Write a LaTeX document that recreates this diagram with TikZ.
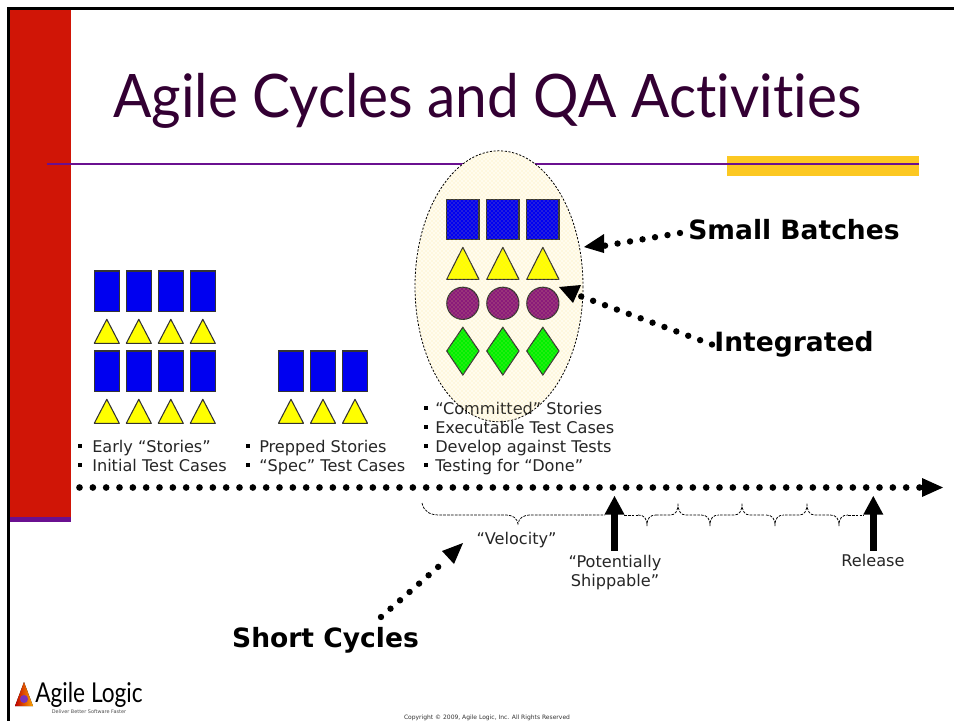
\documentclass[tikz,border=0pt]{standalone}
\usepackage{fontspec}
\usepackage{graphicx}
\setmainfont{DejaVu Sans}
\newfontfamily\titlefont[Ligatures=NoCommon]{Lato}
\usetikzlibrary{arrows.meta,patterns}
\definecolor{framered}{HTML}{D01506}
\definecolor{linepurple}{HTML}{6A1090}
\definecolor{barorange}{HTML}{FCC822}
\definecolor{titlepurple}{HTML}{330033}
\definecolor{blockblue}{HTML}{0000F0}
\definecolor{tri}{HTML}{FFFF00}
\definecolor{circ}{HTML}{8A1A7A}
\definecolor{dia}{HTML}{00F000}
\definecolor{ell}{HTML}{FFFCEE}
\definecolor{txt}{HTML}{262626}
\tikzset{
  x=0.75pt,y=-0.75pt,
  shapeline/.style={draw=black!80,line width=0.8pt},
  block/.style={shapeline,fill=blockblue},
  triblock/.style={shapeline,fill=tri,line join=round},
  circblock/.style={shapeline,fill=circ},
  diablock/.style={shapeline,fill=dia},
  bigdots/.style={line width=5pt,line cap=round,dash pattern=on 0pt off 10pt,black},
  smalldots/.style={line width=4.8pt,line cap=round,dash pattern=on 0pt off 9.5pt,black},
  bignote/.style={font=\bfseries\fontsize{19.9}{24}\selectfont,text=black,inner sep=0pt},
  note/.style={font=\fontsize{12.1}{14.25}\selectfont,text=txt,inner sep=0pt,align=center},
  item/.style={font=\fontsize{12.1}{14}\selectfont,text=txt,inner sep=0pt,anchor=base west},
  bulletbox/.style={fill=black,minimum size=3pt,inner sep=0pt},
  bracep/.style={black,line width=0.55pt,dash pattern=on 2pt off 0.9pt},
  head/.style={fill=black,draw=none},
}
\begin{document}
\begin{tikzpicture}
\useasboundingbox (0,0) rectangle (954,721);
\fill[white] (0,0) rectangle (954,721);
% frame
\fill[black] (7,7) rectangle (954,9.7);
\fill[black] (7,7) rectangle (9.7,721);
\fill[linepurple] (9.7,517) rectangle (71,521.5);
\fill[framered] (9.7,9.7) rectangle (71,517);
\fill[barorange] (727,156) rectangle (919,176);
\draw[linepurple,line width=1.5pt] (47,164) -- (919,164);
\node[anchor=base west,inner sep=0pt,text=titlepurple,font=\titlefont\fontsize{45}{50}\selectfont] (title) at (113,117) {\scalebox{0.946}[1]{Agile Cycles and QA Activities}};
% ellipse base
\fill[ell] (499,286.3) ellipse [x radius=84,y radius=135.5];
% left group
\foreach \x in {94.3,126.3,158.3,190.3}{
  \foreach \y in {271,351}{\draw[block] (\x,\y) rectangle +(25,40.7);}
  \foreach \y in {319.3,399.3}{\draw[triblock] (\x,\y+24) -- (\x+12.5,\y) -- (\x+25,\y+24) -- cycle;}
}
\foreach \x in {278.5,310.5,342.5}{
  \draw[block] (\x,351) rectangle +(25,40.7);
  \draw[triblock] (\x,423.3) -- (\x+12.5,399.3) -- (\x+25,423.3) -- cycle;
}
\foreach \x in {446.7,486.7,526.7}{
  \draw[block] (\x,199.3) rectangle +(32.3,40);
  \draw[triblock] (\x,279.3) -- (\x+16.15,247.3) -- (\x+32.3,279.3) -- cycle;
  \draw[circblock] (\x+16.15,303.3) circle [radius=16.1];
  \draw[diablock] (\x+16.15,327.3) -- (\x+32.3,351) -- (\x+16.15,375) -- (\x,351) -- cycle;
}
% lists
\foreach \b/\t/\y/\s in {80/92/452.3/Early “Stories”,80/92/471/Initial Test Cases,248/259/452.3/Prepped Stories,248/259/471/“Spec” Test Cases,426/435/414.3/“Committed” Stories,426/435/433.3/Executable Test Cases,426/435/452.3/Develop against Tests,426/435/471/Testing for “Done”}{
  \node[bulletbox] at (\b,\y-6) {};
  \node[item] at (\t,\y) {\s};
}
% ellipse overlay
\fill[pattern=crosshatch dots,pattern color=barorange!60,opacity=0.6] (499,286.3) ellipse [x radius=84,y radius=135.5];
\draw[black,line width=0.6pt,dash pattern=on 1.6pt off 1.2pt] (499,286.3) ellipse [x radius=84,y radius=135.5];
% timeline
\coordinate (tlstart) at (79.5,487.5);
\coordinate (tlend) at (924,487.5);
\draw[bigdots] (tlstart) -- (tlend);
\fill[head] (943,487.5) -- (922,478) -- (922,497) -- cycle;
% notes
\node[bignote] (batches) at (794,230) {Small Batches};
\node[bignote] (integrated) at (794,344.5) {Integrated};
\node[bignote] (cycles) at (325.5,640.5) {Short Cycles};
\node[note,anchor=base] (velocity) at (516.5,544) {“Velocity”};
\node[note] (ship) at (615,572.5) {“Potentially\\Shippable”};
\node[note,anchor=base] (release) at (873,566.7) {Release};
% dotted arrows
\coordinate (a1s) at (680,233);
\coordinate (a1e) at (603,246);
\draw[smalldots] (a1s) -- (a1e);
\fill[head] (584,247) -- (604,234) -- (604,253) -- cycle;
\coordinate (a2s) at (712,344.5);
\coordinate (a2e) at (580,296);
\draw[smalldots] (a2s) -- (a2e);
\fill[head] (559,287) -- (581,285) -- (573,303) -- cycle;
\coordinate (a3s) at (381,617);
\coordinate (a3e) at (446,560);
\draw[smalldots] (a3s) -- (a3e);
\fill[head] (463,543) -- (454,564) -- (442,551) -- cycle;
% braces
\draw[bracep] (422,503) .. controls (424,512) and (430,515) .. (440,515) -- (505,515) .. controls (513,515) and (517,518) .. (518,524) .. controls (519,518) and (523,515) .. (531,515) -- (605,515);
\draw[bracep] (624,515) -- (639,515);
\foreach \x in {647,710,775,839}{
  \draw[bracep] (\x-9,515) .. controls (\x-3,515) and (\x,518) .. (\x,526) .. controls (\x,518) and (\x+3,515) .. (\x+9,515);
}
\foreach \x in {678,742,807}{
  \draw[bracep] (\x-22,515) -- (\x-8,515) .. controls (\x-3,515) and (\x,512) .. (\x,503) .. controls (\x,512) and (\x+3,515) .. (\x+8,515) -- (\x+22,515);
}
\draw[bracep] (848,515) -- (864,515);
% up arrows
\foreach \x in {614.5,873.3}{
  \fill[black] (\x-3.5,514) rectangle (\x+3.5,551);
  \fill[head] (\x,496) -- (\x+10,514.5) -- (\x-10,514.5) -- cycle;
}
% logo
\fill[left color=red!75!black,right color=orange!70!yellow] (24,682) -- (33,706) -- (15,706) -- cycle;
\fill[violet!70!blue!80!white] (24,699) circle [radius=4];
\node[anchor=base west,inner sep=0pt,font=\titlefont\fontsize{20.5}{22}\selectfont,text=black] (logo) at (35,702) {\scalebox{0.83}[1]{Agile Logic}};
\node[anchor=center,inner sep=0pt,font=\fontsize{3.7}{5}\selectfont,text=black!70] (tag) at (89,712) {Deliver Better Software Faster};
\node[anchor=center,inner sep=0pt,font=\fontsize{4.5}{5}\selectfont,text=black!80] (copy) at (487,718) {Copyright © 2009, Agile Logic, Inc. All Rights Reserved};
\end{tikzpicture}
\end{document}
